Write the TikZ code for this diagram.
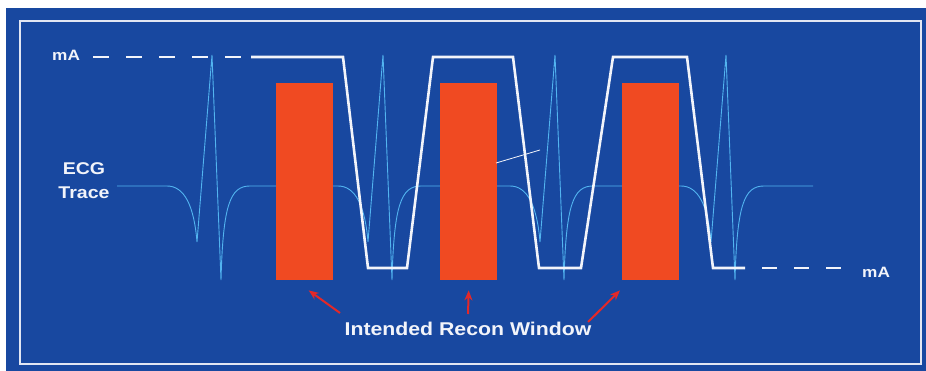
\documentclass[tikz,border=0pt]{standalone}
\usepackage{fontspec}
\setmainfont{Liberation Sans}[FakeStretch=1.15]
\usetikzlibrary{arrows.meta,positioning,calc}
\definecolor{bgblue}{HTML}{1848A0}
\definecolor{recon}{HTML}{F04A22}
\definecolor{ecgblue}{HTML}{52B4F0}
\definecolor{ink}{HTML}{F2F4FA}
\definecolor{arrred}{HTML}{E42828}
\tikzset{
  every node/.style={text=ink},
  frame/.style={draw=ink!92!bgblue,line width=2.6pt},
  trace/.style={draw=ink,line width=2.6pt,line join=miter},
  ecg/.style={draw=ecgblue,line width=.9pt},
  window/.style={fill=recon,draw=none,minimum width=57pt,minimum height=197pt,inner sep=0,anchor=north west},
  arr/.style={-{Stealth[length=10pt,width=8pt]},draw=arrred,line width=2pt},
  lbl/.style={inner sep=0,font=\bfseries\fontsize{15}{18}\selectfont},
  biglbl/.style={inner sep=0,font=\bfseries\fontsize{17}{24}\selectfont}
}
\begin{document}
\begin{tikzpicture}[x=1pt,y=-1pt]
  \path[use as bounding box] (0,0) rectangle (926,371);
  \fill[bgblue] (6,8) rectangle (926,371);
  \draw[frame] (20,21) rectangle (921,364);

  % ECG trace
  \draw[ecg] (117,186) foreach \r in {212,383,555,726} {
      -- (\r-45,186) .. controls (\r-28,186) and (\r-18,205) .. (\r-15,242)
      -- (\r,55) -- (\r+9,280) .. controls (\r+11,205) and (\r+18,186) .. (\r+38,186)
    } -- (813,186);

  % recon windows
  \node[window] (win1) at (276,83) {};
  \node[window] (win2) at (440,83) {};
  \node[window] (win3) at (622,83) {};

  % tube current
  \draw[trace,dash pattern=on 16pt off 17pt] (93,57) -- (243,57);
  \draw[trace] (251,57) -- (343,57) -- (368,268) -- (407,268) -- (433,57) -- (513,57)
    -- (539,268) -- (581,268) -- (613,57) -- (687,57) -- (713,268) -- (745,268);
  \draw[trace,dash pattern=on 15pt off 17pt] (762,268) -- (841,268);
  \draw[ink!80,line width=.8pt] (496,163) -- (540,150);

  % labels
  \node[lbl,anchor=base west] (mahigh) at (52,61) {mA};
  \node[lbl,anchor=base west] (malow) at (862,278) {mA};
  \node[biglbl,anchor=base] (ecgword) at (84,175) {ECG};
  \node[biglbl,anchor=base] (traceword) at ([yshift=-24pt]ecgword.base) {Trace};
  \node[biglbl,font=\bfseries\fontsize{18.5}{22}\selectfont,anchor=base] (reconlbl) at (468,335) {Intended Recon Window};

  % pointers
  \coordinate (tail1) at (340,313);
  \coordinate (tail2) at (468,314);
  \coordinate (tail3) at (588,322);
  \draw[arr] (tail1) -- ([shift={(4,10)}]win1.south);
  \draw[arr] (tail2) -- ([shift={(0,10)}]win2.south);
  \draw[arr] (tail3) -- ([shift={(-2,10)}]win3.south west);
\end{tikzpicture}
\end{document}
